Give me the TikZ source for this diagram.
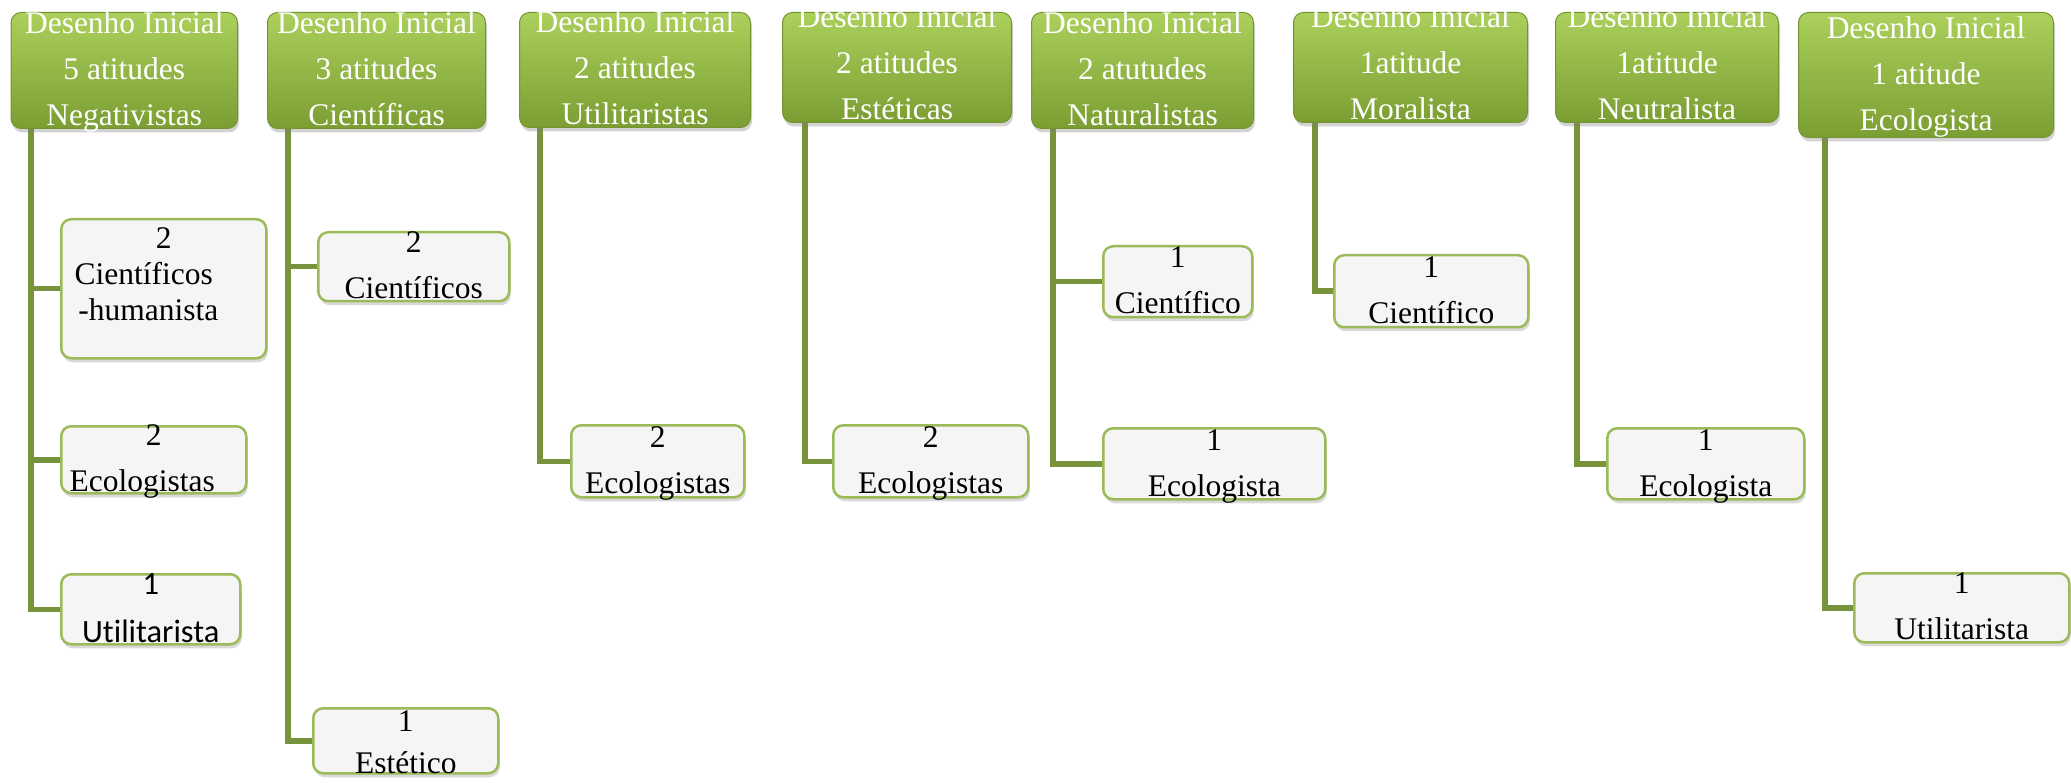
\documentclass[tikz,border=0pt]{standalone}
\usepackage{fontspec}
\setmainfont{Liberation Serif}
\newfontfamily\calibrifont{Carlito}[Ligatures=NoCommon]
\usepackage{tikz}
\usetikzlibrary{positioning,shadows}
\definecolor{headlight}{RGB}{172,208,92}
\definecolor{headdark}{RGB}{122,158,50}
\definecolor{headedge}{RGB}{116,148,50}
\definecolor{leafedge}{RGB}{155,187,89}
\definecolor{leaffill}{RGB}{245,245,245}
\definecolor{trunkgreen}{RGB}{119,147,60}
\pgfdeclarelayer{background}
\pgfsetlayers{background,main}

\tikzset{
 head/.style={rectangle,rounded corners=10pt,draw=headedge,line width=1pt,
  top color=headlight,bottom color=headdark,anchor=north west,inner sep=0pt,
  drop shadow={shadow xshift=1.5pt,shadow yshift=-4pt,opacity=.35}},
 headtext/.style={text=white,font=\fontsize{31.5}{46}\selectfont,align=center,
  inner sep=0pt,anchor=south,execute at begin node=\strut,execute at end node=\strut},
 leaf/.style={rectangle,rounded corners=10pt,draw=leafedge,line width=2.5pt,
  fill=leaffill,anchor=north west,inner sep=0pt,
  drop shadow={shadow xshift=1.5pt,shadow yshift=-4pt,opacity=.3}},
 leaftext/.style={font=\fontsize{31.5}{46}\selectfont,align=center,
  inner sep=0pt,anchor=north,execute at begin node=\strut},
 trunk/.style={draw=trunkgreen,line width=5.5pt},
}

\begin{document}
\begin{tikzpicture}[x=1pt,y=-1pt]
 \useasboundingbox (0,0) rectangle (2071,783);
 % headers
 \node[head,minimum width=226.4pt,minimum height=116pt] (h1) at (10.6,12) {};
 \node[head,minimum width=218pt,minimum height=116pt] (h2) at (267,12) {};
 \node[head,minimum width=231pt,minimum height=115pt] (h3) at (519,12) {};
 \node[head,minimum width=229pt,minimum height=110pt] (h4) at (782,12) {};
 \node[head,minimum width=222pt,minimum height=116pt] (h5) at (1031,12) {};
 \node[head,minimum width=234pt,minimum height=110pt] (h6) at (1293,12) {};
 \node[head,minimum width=223pt,minimum height=110pt] (h7) at (1555,12) {};
 \node[head,minimum width=255pt,minimum height=125pt] (h8) at (1798,12) {};
 \node[headtext] (t1) at ([yshift=-10.8pt]h1.south) {Desenho Inicial\\5 atitudes\\Negativistas};
 \node[headtext] (t2) at ([yshift=-10.8pt]h2.south) {Desenho Inicial\\3 atitudes\\Científicas};
 \node[headtext] (t3) at ([yshift=-10.8pt]h3.south) {Desenho Inicial\\2 atitudes\\Utilitaristas};
 \node[headtext] (t4) at ([yshift=-10.8pt]h4.south) {Desenho Inicial\\2 atitudes\\Estéticas};
 \node[headtext] (t5) at ([yshift=-10.8pt]h5.south) {Desenho Inicial\\2 atutudes\\Naturalistas};
 \node[headtext] (t6) at ([yshift=-10.8pt]h6.south) {Desenho Inicial\\1atitude\\Moralista};
 \node[headtext] (t7) at ([yshift=-10.8pt]h7.south) {Desenho Inicial\\1atitude\\Neutralista};
 \node[headtext] (t8) at ([yshift=-6.8pt]h8.south) {Desenho Inicial\\1 atitude\\Ecologista};

 % leaves
 \node[leaf,minimum width=205pt,minimum height=139pt] (c1a) at (60,218) {};
 \node[leaf,minimum width=185pt,minimum height=67pt] (c1b) at (60,425) {};
 \node[leaf,minimum width=179pt,minimum height=70pt] (c1c) at (60,573) {};
 \node[leaf,minimum width=191pt,minimum height=69pt] (c2a) at (317,231) {};
 \node[leaf,minimum width=185pt,minimum height=65pt] (c2b) at (312,707) {};
 \node[leaf,minimum width=173pt,minimum height=72pt] (c3a) at (570,424) {};
 \node[leaf,minimum width=195pt,minimum height=72pt] (c4a) at (832,424) {};
 \node[leaf,minimum width=149pt,minimum height=71pt] (c5a) at (1102,245) {};
 \node[leaf,minimum width=222pt,minimum height=71pt] (c5b) at (1102,427) {};
 \node[leaf,minimum width=194pt,minimum height=72pt] (c6a) at (1333,254) {};
 \node[leaf,minimum width=197pt,minimum height=71pt] (c7a) at (1606,427) {};
 \node[leaf,minimum width=215pt,minimum height=69pt] (c8a) at (1853,572) {};

 \node[leaftext,font=\fontsize{31.5}{36}\selectfont] (s1a) at ([yshift=-9.8pt]c1a.north)
  {2\\Científicos\hspace*{40pt}\mbox{}\\\hspace*{0pt}-humanista\hspace*{31pt}};
 \node[leaftext] (s1b) at ([yshift=0.2pt]c1b.north) {2\\Ecologistas\hspace*{23pt}};
 \node[leaftext,font=\calibrifont\fontsize{32.5}{48}\selectfont] (s1c) at ([yshift=-0.4pt]c1c.north)
  {1\\Utilitarista};
 \node[leaftext] (s2a) at ([yshift=-0.8pt]c2a.north) {2\\Científicos};
 \node[leaftext,font=\fontsize{31.5}{42}\selectfont] (s2b) at ([yshift=-3.6pt]c2b.north) {1\\Estético};
 \node[leaftext] (s3a) at ([yshift=-2.8pt]c3a.north) {2\\Ecologistas};
 \node[leaftext] (s4a) at ([yshift=-2.8pt]c4a.north) {2\\Ecologistas};
 \node[leaftext] (s5a) at ([yshift=-1.8pt]c5a.north) {1\\Científico};
 \node[leaftext] (s5b) at ([yshift=-2.8pt]c5b.north) {1\\Ecologista};
 \node[leaftext] (s6a) at ([yshift=-2.8pt]c6a.north) {1\\Científico};
 \node[leaftext] (s7a) at ([yshift=-2.8pt]c7a.north) {1\\Ecologista};
 \node[leaftext] (s8a) at ([yshift=-0.8pt]c8a.north) {1\\Utilitarista};

 % trunks and branches
 \begin{pgfonlayer}{background}
  \draw[trunk] ([xshift=20.4pt]h1.south west) |- (c1a.west);
  \draw[trunk] ([xshift=20.4pt]h1.south west) |- (c1b.west);
  \draw[trunk] ([xshift=20.4pt]h1.south west) |- (c1c.west);
  \draw[trunk] ([xshift=21pt]h2.south west) |- (c2a.west);
  \draw[trunk] ([xshift=21pt]h2.south west) |- (c2b.west);
  \draw[trunk] ([xshift=21pt]h3.south west) |- (c3a.west);
  \draw[trunk] ([xshift=23pt]h4.south west) |- (c4a.west);
  \draw[trunk] ([xshift=22pt]h5.south west) |- (c5a.west);
  \draw[trunk] ([xshift=22pt]h5.south west) |- (c5b.west);
  \draw[trunk] ([xshift=22pt]h6.south west) |- (c6a.west);
  \draw[trunk] ([xshift=22pt]h7.south west) |- (c7a.west);
  \draw[trunk] ([xshift=27pt]h8.south west) |- (c8a.west);
 \end{pgfonlayer}
\end{tikzpicture}
\end{document}
